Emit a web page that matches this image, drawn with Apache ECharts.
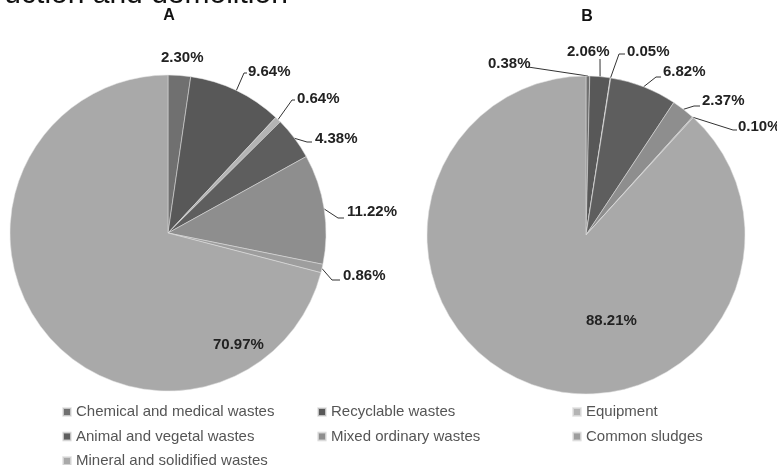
<!DOCTYPE html>
<html>
<head>
<meta charset="utf-8">
<script src="https://cdn.jsdelivr.net/npm/echarts@6/dist/echarts.min.js"></script>
<style>
  html, body { margin: 0; padding: 0; background: #ffffff; }
  #chart { width: 777px; height: 465px; }
</style>
</head>
<body>
<div id="chart"></div>
<script>
// Waste categories, in slice order (clockwise from 12 o'clock)
const categories = [
  'Chemical and medical wastes',
  'Recyclable wastes',
  'Equipment',
  'Animal and vegetal wastes',
  'Mixed ordinary wastes',
  'Common sludges',
  'Mineral and solidified wastes'
];

// Share of each category (%)
const sharesA = [2.30, 9.64, 0.64, 4.38, 11.22, 0.86, 70.97];
const sharesB = [0.38, 2.06, 0.05, 6.82, 2.37, 0.10, 88.21];

const panelTitles = ['A', 'B'];
const headingText = 'Construction and demolition';

// Grey tones for the categories
const sliceColors = ['#707070', '#585858', '#b4b4b4', '#5e5e5e', '#8e8e8e', '#9e9e9e', '#a9a9a9'];

// Label placement per slice: [left x, middle y, leader bend points after the arc anchor]
const labelSpotsA = [
  [161, 58, []],
  [248, 72, [[244, 73], [247, 73]]],
  [297, 99, [[292, 100], [295, 100]]],
  [315, 139, [[307, 142], [312, 142]]],
  [347, 212, [[338, 218], [344, 218]]],
  [343, 276, [[332, 280], [340, 280]]],
  [213, 345, []]
];
const labelSpotsB = [
  [488, 64, [[528, 67]]],
  [567, 52, [[600, 59]]],
  [627, 52, [[619, 54], [625, 54]]],
  [663, 72, [[656, 77], [661, 77]]],
  [702, 101, [[694, 106], [700, 106]]],
  [738, 127, [[733, 130], [737, 130]]],
  [586, 321, []]
];

const FONT = "'Liberation Sans', Arial, sans-serif";

function buildData(values, spots) {
  return values.map((v, i) => ({
    name: categories[i],
    value: v,
    itemStyle: { color: sliceColors[i] },
    labelLine: { show: spots[i][2].length > 0 }
  }));
}

function makeLayout(spots) {
  return function (params) {
    const spot = spots[params.dataIndex];
    const out = { x: spot[0], y: spot[1], align: 'left', verticalAlign: 'middle' };
    if (params.labelLinePoints && spot[2].length) {
      const anchor = params.labelLinePoints[0];
      const pts = [anchor].concat(spot[2]);
      if (pts.length < 3) pts.push(pts[pts.length - 1]);
      out.labelLinePoints = pts;
    }
    return out;
  };
}

function pieSeries(values, spots, center, radius) {
  return {
    type: 'pie',
    center: center,
    radius: radius,
    startAngle: 90,
    clockwise: true,
    avoidLabelOverlap: false,
    silent: true,
    data: buildData(values, spots),
    itemStyle: { borderColor: 'rgba(225,225,225,0.75)', borderWidth: 0.7 },
    label: {
      show: true,
      position: 'outside',
      formatter: p => p.value.toFixed(2) + '%',
      fontFamily: FONT,
      fontSize: 15,
      fontWeight: 'bold',
      color: '#222222'
    },
    labelLine: { show: true, lineStyle: { color: '#333333', width: 1 } },
    labelLayout: makeLayout(spots),
    emphasis: { disabled: true }
  };
}

const legendText = { fontFamily: FONT, fontSize: 15, color: '#555555', lineHeight: 16 };
function legendColumn(left, names) {
  return {
    orient: 'vertical',
    left: left,
    top: 404,
    height: 80,
    padding: 0,
    icon: 'rect',
    itemWidth: 8,
    itemHeight: 8,
    itemGap: 8.5,
    selectedMode: false,
    textStyle: legendText,
    data: names
  };
}

const chart = echarts.init(document.getElementById('chart'), null, { renderer: 'canvas' });
chart.setOption({
  animation: false,
  backgroundColor: '#ffffff',
  legend: [
    legendColumn(62, [categories[0], categories[3], categories[6]]),
    legendColumn(317, [categories[1], categories[4]]),
    legendColumn(572, [categories[2], categories[5]])
  ],
  graphic: [
    {
      type: 'text',
      left: -84,
      top: -20,
      style: { text: headingText, font: '30px ' + FONT, fill: '#111111' }
    },
    {
      type: 'text',
      x: 169, y: 16,
      style: { text: panelTitles[0], font: 'bold 16px ' + FONT, fill: '#111111', align: 'center', verticalAlign: 'middle' }
    },
    {
      type: 'text',
      x: 587, y: 17,
      style: { text: panelTitles[1], font: 'bold 16px ' + FONT, fill: '#111111', align: 'center', verticalAlign: 'middle' }
    }
  ],
  series: [
    pieSeries(sharesA, labelSpotsA, [168, 233], 158),
    pieSeries(sharesB, labelSpotsB, [586, 235], 159)
  ]
});
</script>
</body>
</html>
